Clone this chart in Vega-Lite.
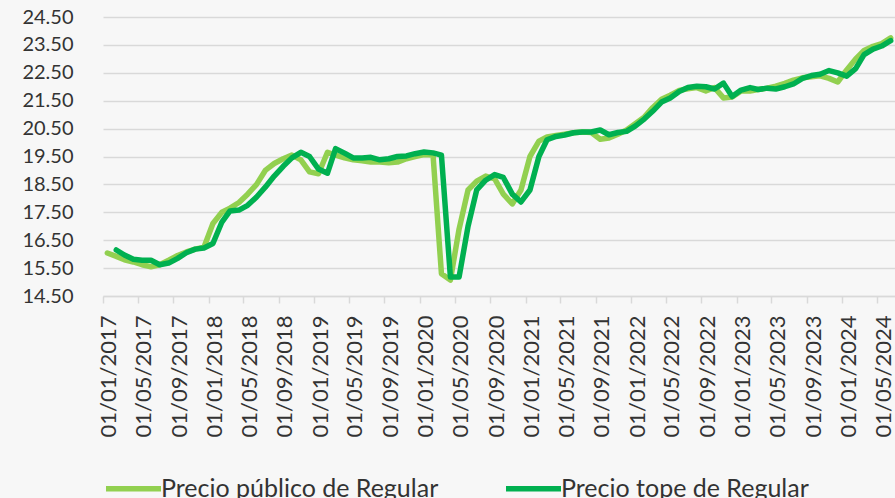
{
  "$schema": "https://vega.github.io/schema/vega-lite/v6.json",
  "width": 792,
  "height": 279,
  "autosize": {"type": "none"},
  "padding": {"left": 103, "top": 17, "right": 0, "bottom": 202},
  "background": "#f7f7f7",
  "config": {
    "view": {"stroke": null},
    "font": "Lato",
    "axis": {"labelFont": "Lato", "labelColor": "#333333"},
    "legend": {"labelFont": "Lato", "labelColor": "#333333"}
  },
  "data": {
    "values": [
      {"fecha": "2017-01-01", "Precio público de Regular": 16.04},
      {"fecha": "2017-02-01", "Precio público de Regular": 15.92, "Precio tope de Regular": 16.15},
      {"fecha": "2017-03-01", "Precio público de Regular": 15.80, "Precio tope de Regular": 15.97},
      {"fecha": "2017-04-01", "Precio público de Regular": 15.72, "Precio tope de Regular": 15.82},
      {"fecha": "2017-05-01", "Precio público de Regular": 15.62, "Precio tope de Regular": 15.78},
      {"fecha": "2017-06-01", "Precio público de Regular": 15.55, "Precio tope de Regular": 15.78},
      {"fecha": "2017-07-01", "Precio público de Regular": 15.62, "Precio tope de Regular": 15.62},
      {"fecha": "2017-08-01", "Precio público de Regular": 15.78, "Precio tope de Regular": 15.68},
      {"fecha": "2017-09-01", "Precio público de Regular": 15.95, "Precio tope de Regular": 15.85},
      {"fecha": "2017-10-01", "Precio público de Regular": 16.08, "Precio tope de Regular": 16.05},
      {"fecha": "2017-11-01", "Precio público de Regular": 16.18, "Precio tope de Regular": 16.18},
      {"fecha": "2017-12-01", "Precio público de Regular": 16.25, "Precio tope de Regular": 16.22},
      {"fecha": "2018-01-01", "Precio público de Regular": 17.10, "Precio tope de Regular": 16.38},
      {"fecha": "2018-02-01", "Precio público de Regular": 17.50, "Precio tope de Regular": 17.15},
      {"fecha": "2018-03-01", "Precio público de Regular": 17.65, "Precio tope de Regular": 17.55},
      {"fecha": "2018-04-01", "Precio público de Regular": 17.85, "Precio tope de Regular": 17.58},
      {"fecha": "2018-05-01", "Precio público de Regular": 18.15, "Precio tope de Regular": 17.75},
      {"fecha": "2018-06-01", "Precio público de Regular": 18.50, "Precio tope de Regular": 18.05},
      {"fecha": "2018-07-01", "Precio público de Regular": 19.00, "Precio tope de Regular": 18.40},
      {"fecha": "2018-08-01", "Precio público de Regular": 19.25, "Precio tope de Regular": 18.80},
      {"fecha": "2018-09-01", "Precio público de Regular": 19.42, "Precio tope de Regular": 19.15},
      {"fecha": "2018-10-01", "Precio público de Regular": 19.55, "Precio tope de Regular": 19.45},
      {"fecha": "2018-11-01", "Precio público de Regular": 19.38, "Precio tope de Regular": 19.65},
      {"fecha": "2018-12-01", "Precio público de Regular": 18.95, "Precio tope de Regular": 19.50},
      {"fecha": "2019-01-01", "Precio público de Regular": 18.88, "Precio tope de Regular": 19.05},
      {"fecha": "2019-02-01", "Precio público de Regular": 19.65, "Precio tope de Regular": 18.90},
      {"fecha": "2019-03-01", "Precio público de Regular": 19.55, "Precio tope de Regular": 19.78},
      {"fecha": "2019-04-01", "Precio público de Regular": 19.45, "Precio tope de Regular": 19.62},
      {"fecha": "2019-05-01", "Precio público de Regular": 19.38, "Precio tope de Regular": 19.45},
      {"fecha": "2019-06-01", "Precio público de Regular": 19.35, "Precio tope de Regular": 19.45},
      {"fecha": "2019-07-01", "Precio público de Regular": 19.30, "Precio tope de Regular": 19.47},
      {"fecha": "2019-08-01", "Precio público de Regular": 19.30, "Precio tope de Regular": 19.38},
      {"fecha": "2019-09-01", "Precio público de Regular": 19.28, "Precio tope de Regular": 19.42},
      {"fecha": "2019-10-01", "Precio público de Regular": 19.30, "Precio tope de Regular": 19.50},
      {"fecha": "2019-11-01", "Precio público de Regular": 19.42, "Precio tope de Regular": 19.52},
      {"fecha": "2019-12-01", "Precio público de Regular": 19.50, "Precio tope de Regular": 19.60},
      {"fecha": "2020-01-01", "Precio público de Regular": 19.57, "Precio tope de Regular": 19.66},
      {"fecha": "2020-02-01", "Precio público de Regular": 19.55, "Precio tope de Regular": 19.63},
      {"fecha": "2020-03-01", "Precio público de Regular": 15.30, "Precio tope de Regular": 19.55},
      {"fecha": "2020-04-01", "Precio público de Regular": 15.07, "Precio tope de Regular": 15.18},
      {"fecha": "2020-05-01", "Precio público de Regular": 16.90, "Precio tope de Regular": 15.18},
      {"fecha": "2020-06-01", "Precio público de Regular": 18.30, "Precio tope de Regular": 17.00},
      {"fecha": "2020-07-01", "Precio público de Regular": 18.62, "Precio tope de Regular": 18.30},
      {"fecha": "2020-08-01", "Precio público de Regular": 18.80, "Precio tope de Regular": 18.65},
      {"fecha": "2020-09-01", "Precio público de Regular": 18.70, "Precio tope de Regular": 18.85},
      {"fecha": "2020-10-01", "Precio público de Regular": 18.15, "Precio tope de Regular": 18.75},
      {"fecha": "2020-11-01", "Precio público de Regular": 17.80, "Precio tope de Regular": 18.15},
      {"fecha": "2020-12-01", "Precio público de Regular": 18.30, "Precio tope de Regular": 17.87},
      {"fecha": "2021-01-01", "Precio público de Regular": 19.50, "Precio tope de Regular": 18.30},
      {"fecha": "2021-02-01", "Precio público de Regular": 20.05, "Precio tope de Regular": 19.50},
      {"fecha": "2021-03-01", "Precio público de Regular": 20.20, "Precio tope de Regular": 20.10},
      {"fecha": "2021-04-01", "Precio público de Regular": 20.25, "Precio tope de Regular": 20.22},
      {"fecha": "2021-05-01", "Precio público de Regular": 20.30, "Precio tope de Regular": 20.27},
      {"fecha": "2021-06-01", "Precio público de Regular": 20.35, "Precio tope de Regular": 20.35},
      {"fecha": "2021-07-01", "Precio público de Regular": 20.38, "Precio tope de Regular": 20.38},
      {"fecha": "2021-08-01", "Precio público de Regular": 20.36, "Precio tope de Regular": 20.38},
      {"fecha": "2021-09-01", "Precio público de Regular": 20.12, "Precio tope de Regular": 20.45},
      {"fecha": "2021-10-01", "Precio público de Regular": 20.16, "Precio tope de Regular": 20.28},
      {"fecha": "2021-11-01", "Precio público de Regular": 20.30, "Precio tope de Regular": 20.36},
      {"fecha": "2021-12-01", "Precio público de Regular": 20.45, "Precio tope de Regular": 20.40},
      {"fecha": "2022-01-01", "Precio público de Regular": 20.68, "Precio tope de Regular": 20.60},
      {"fecha": "2022-02-01", "Precio público de Regular": 20.92, "Precio tope de Regular": 20.85},
      {"fecha": "2022-03-01", "Precio público de Regular": 21.25, "Precio tope de Regular": 21.12},
      {"fecha": "2022-04-01", "Precio público de Regular": 21.55, "Precio tope de Regular": 21.45},
      {"fecha": "2022-05-01", "Precio público de Regular": 21.70, "Precio tope de Regular": 21.60},
      {"fecha": "2022-06-01", "Precio público de Regular": 21.87, "Precio tope de Regular": 21.83},
      {"fecha": "2022-07-01", "Precio público de Regular": 21.93, "Precio tope de Regular": 21.97},
      {"fecha": "2022-08-01", "Precio público de Regular": 21.97, "Precio tope de Regular": 22.02},
      {"fecha": "2022-09-01", "Precio público de Regular": 21.85, "Precio tope de Regular": 22.00},
      {"fecha": "2022-10-01", "Precio público de Regular": 21.97, "Precio tope de Regular": 21.92},
      {"fecha": "2022-11-01", "Precio público de Regular": 21.60, "Precio tope de Regular": 22.13},
      {"fecha": "2022-12-01", "Precio público de Regular": 21.63, "Precio tope de Regular": 21.65},
      {"fecha": "2023-01-01", "Precio público de Regular": 21.85, "Precio tope de Regular": 21.88},
      {"fecha": "2023-02-01", "Precio público de Regular": 21.85, "Precio tope de Regular": 21.97},
      {"fecha": "2023-03-01", "Precio público de Regular": 21.90, "Precio tope de Regular": 21.90},
      {"fecha": "2023-04-01", "Precio público de Regular": 21.95, "Precio tope de Regular": 21.95},
      {"fecha": "2023-05-01", "Precio público de Regular": 22.02, "Precio tope de Regular": 21.92},
      {"fecha": "2023-06-01", "Precio público de Regular": 22.12, "Precio tope de Regular": 22.00},
      {"fecha": "2023-07-01", "Precio público de Regular": 22.24, "Precio tope de Regular": 22.10},
      {"fecha": "2023-08-01", "Precio público de Regular": 22.32, "Precio tope de Regular": 22.30},
      {"fecha": "2023-09-01", "Precio público de Regular": 22.36, "Precio tope de Regular": 22.40},
      {"fecha": "2023-10-01", "Precio público de Regular": 22.39, "Precio tope de Regular": 22.45},
      {"fecha": "2023-11-01", "Precio público de Regular": 22.30, "Precio tope de Regular": 22.58},
      {"fecha": "2023-12-01", "Precio público de Regular": 22.17, "Precio tope de Regular": 22.50},
      {"fecha": "2024-01-01", "Precio público de Regular": 22.60, "Precio tope de Regular": 22.38},
      {"fecha": "2024-02-01", "Precio público de Regular": 23.00, "Precio tope de Regular": 22.65},
      {"fecha": "2024-03-01", "Precio público de Regular": 23.30, "Precio tope de Regular": 23.15},
      {"fecha": "2024-04-01", "Precio público de Regular": 23.45, "Precio tope de Regular": 23.35},
      {"fecha": "2024-05-01", "Precio público de Regular": 23.55, "Precio tope de Regular": 23.46},
      {"fecha": "2024-06-01", "Precio público de Regular": 23.75, "Precio tope de Regular": 23.65}
    ]
  },
  "transform": [
    {"fold": ["Precio público de Regular", "Precio tope de Regular"], "as": ["serie", "valor"]}
  ],
  "mark": {"type": "line", "strokeWidth": 5.5, "strokeJoin": "round", "strokeCap": "round", "clip": false},
  "encoding": {
    "x": {
      "field": "fecha",
      "type": "temporal",
      "scale": {
        "type": "utc",
        "domain": [
          {"year": 2016, "month": 12, "date": 17, "utc": true},
          {"year": 2024, "month": 6, "date": 16, "utc": true}
        ]
      },
      "axis": {
        "title": null,
        "format": "%d/%m/%Y",
        "values": [
          {"year": 2017, "month": 1, "date": 1, "utc": true},
          {"year": 2017, "month": 5, "date": 1, "utc": true},
          {"year": 2017, "month": 9, "date": 1, "utc": true},
          {"year": 2018, "month": 1, "date": 1, "utc": true},
          {"year": 2018, "month": 5, "date": 1, "utc": true},
          {"year": 2018, "month": 9, "date": 1, "utc": true},
          {"year": 2019, "month": 1, "date": 1, "utc": true},
          {"year": 2019, "month": 5, "date": 1, "utc": true},
          {"year": 2019, "month": 9, "date": 1, "utc": true},
          {"year": 2020, "month": 1, "date": 1, "utc": true},
          {"year": 2020, "month": 5, "date": 1, "utc": true},
          {"year": 2020, "month": 9, "date": 1, "utc": true},
          {"year": 2021, "month": 1, "date": 1, "utc": true},
          {"year": 2021, "month": 5, "date": 1, "utc": true},
          {"year": 2021, "month": 9, "date": 1, "utc": true},
          {"year": 2022, "month": 1, "date": 1, "utc": true},
          {"year": 2022, "month": 5, "date": 1, "utc": true},
          {"year": 2022, "month": 9, "date": 1, "utc": true},
          {"year": 2023, "month": 1, "date": 1, "utc": true},
          {"year": 2023, "month": 5, "date": 1, "utc": true},
          {"year": 2023, "month": 9, "date": 1, "utc": true},
          {"year": 2024, "month": 1, "date": 1, "utc": true},
          {"year": 2024, "month": 5, "date": 1, "utc": true}
        ],
        "labelAngle": -90,
        "labelAlign": "right",
        "labelBaseline": "middle",
        "labelFontSize": 22,
        "labelPadding": 12,
        "labelOverlap": false,
        "labelFlush": false,
        "labelBound": false,
        "tickOffset": -4.4,
        "labelOffset": 6,
        "tickSize": 7,
        "tickWidth": 1.5,
        "tickColor": "#d9d9d9",
        "domainColor": "#d9d9d9",
        "domainWidth": 1.5,
        "grid": false
      }
    },
    "y": {
      "field": "valor",
      "type": "quantitative",
      "scale": {"domain": [14.5, 24.5], "nice": false, "zero": false},
      "axis": {
        "title": null,
        "values": [14.5, 15.5, 16.5, 17.5, 18.5, 19.5, 20.5, 21.5, 22.5, 23.5, 24.5],
        "format": ".2f",
        "labelFontSize": 20,
        "labelPadding": 30,
        "ticks": false,
        "domain": false,
        "grid": true,
        "gridColor": "#d9d9d9",
        "gridWidth": 1.5
      }
    },
    "color": {
      "field": "serie",
      "type": "nominal",
      "scale": {
        "domain": ["Precio público de Regular", "Precio tope de Regular"],
        "range": ["#92d050", "#00b050"]
      },
      "legend": {
        "title": null,
        "orient": "none",
        "direction": "horizontal",
        "legendX": 0,
        "legendY": 441,
        "padding": 0,
        "symbolType": "stroke",
        "symbolSize": 3025,
        "symbolStrokeWidth": 5.5,
        "labelFontSize": 25,
        "labelOffset": -3,
        "labelLimit": 400,
        "columnPadding": 56
      }
    }
  }
}
